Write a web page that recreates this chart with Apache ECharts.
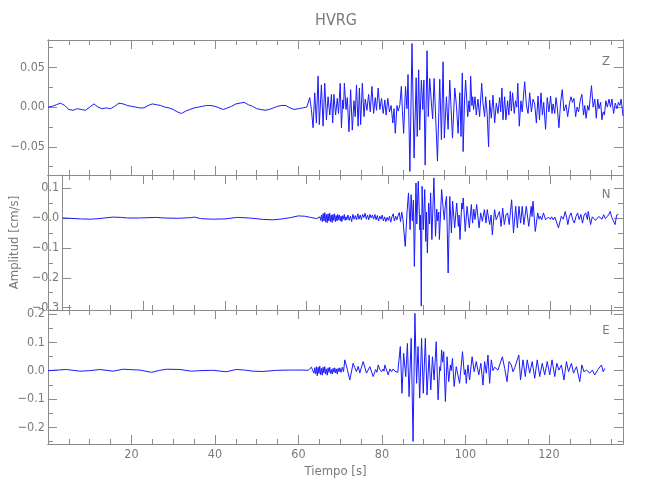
<!DOCTYPE html>
<html><head><meta charset="utf-8">
<script src="https://cdn.jsdelivr.net/npm/echarts@6/dist/echarts.min.js"></script>
<style>html,body{margin:0;padding:0;background:#fff}#c{width:650px;height:500px}</style>
</head><body><div id="c"></div>
<script>
// ---------- texts & ticks ----------
const chartTitle = 'HVRG';
const componentNames = ['Z', 'N', 'E'];
const xAxisName = 'Tiempo [s]';
const yAxisName = 'Amplitud [cm/s]';
const timeRange = [0, 137.75];
const xMajorTicks = [20, 40, 60, 80, 100, 120];
const xMinorTicks = [5, 10, 15, 25, 30, 35, 45, 50, 55, 65, 70, 75, 85, 90, 95, 105, 110, 115, 125, 130, 135];
const zRange = [-0.0855, 0.0845];
const nRange = [-0.3077, 0.1438];
const eRange = [-0.259, 0.214];
const zMajorTicks = [-0.05, 0, 0.05];
const zTickLabels = ['\u22120.05', '0.00', '0.05'];
const zMinorTicks = [-0.075, -0.025, 0.025, 0.075];
const nMajorTicks = [-0.3, -0.2, -0.1, 0, 0.1];
const nTickLabels = ['\u22120.3', '\u22120.2', '\u22120.1', '\u22120.0', '0.1'];
const nMinorTicks = [-0.25, -0.15, -0.05, 0.05];
const eMajorTicks = [-0.2, -0.1, 0, 0.1, 0.2];
const eTickLabels = ['\u22120.2', '\u22120.1', '0.0', '0.1', '0.2'];
const eMinorTicks = [-0.25, -0.15, -0.05, 0.05, 0.15];

// ---------- Z component ----------
const zQuietDt = 1; // quiet part sampled every 1 s from 0 s
const zQuiet = [
  0.000, 0.001, 0.003, 0.005, 0.002, -0.003, -0.004, -0.002, -0.003, -0.004,
  0.000, 0.004, 0.000, -0.002, -0.001, -0.002, 0.001, 0.005, 0.004, 0.002,
  0.001, 0.000, -0.001, -0.001, 0.002, 0.004, 0.003, 0.002, 0.000, -0.001,
  -0.003, -0.006, -0.008, -0.005, -0.003, -0.001, 0.000, 0.001, 0.002, 0.002,
  0.001, -0.001, -0.003, -0.001, 0.001, 0.004, 0.005, 0.006, 0.003, 0.001,
  -0.002, -0.003, -0.004, -0.003, -0.001, 0.001, 0.002, 0.002, -0.001, -0.003,
  -0.002, -0.001, 0.000
];
const zT = [
  62.3, 62.7, 63.1, 63.5, 63.9, 64.3, 64.7, 65.0, 65.5, 65.9,
  66.3, 66.7, 67.1, 67.5, 67.9, 68.2, 68.5, 68.9, 69.3, 69.6,
  70.0, 70.3, 70.6, 70.8, 71.0, 71.4, 71.7, 72.1, 72.5, 72.9,
  73.3, 73.6, 73.9, 74.3, 74.6, 74.9, 75.3, 75.7, 76.0, 76.4,
  76.8, 77.2, 77.6, 78.0, 78.4, 78.7, 79.1, 79.5, 79.9, 80.3,
  80.7, 81.0, 81.4, 81.8, 82.2, 82.6, 82.9, 83.2, 83.6, 83.9,
  84.3, 84.65, 84.9, 85.2, 85.65, 86.0, 86.25, 86.7, 87.2, 87.7,
  88.2, 88.45, 88.8, 89.05, 89.45, 89.8, 90.05, 90.35, 90.8, 91.1,
  91.45, 91.85, 92.15, 92.5, 93.3, 93.85, 94.25, 94.65, 94.95, 95.45,
  95.85, 96.25, 96.9, 97.45, 97.85, 98.25, 98.65, 98.95, 99.25, 99.45,
  99.8, 100.05, 100.55, 100.85, 101.05, 101.25, 101.55, 101.75, 101.95, 102.3,
  102.6, 103.0, 103.4, 103.9, 104.2, 104.6, 104.85, 105.2, 105.55, 105.8,
  106.2, 106.6, 107.0, 107.4, 107.8, 108.2, 108.45, 108.75, 109.0, 109.4,
  109.7, 110.1, 110.4, 110.75, 111.0, 111.3, 111.7, 112.0, 112.3, 112.55,
  112.9, 113.3, 113.6, 114.2, 114.6, 115.0, 115.4, 115.8, 116.2, 116.6,
  117.0, 117.4, 117.75, 118.1, 118.45, 118.75, 119.2, 119.6, 120.0, 120.4,
  120.75, 121.0, 121.4, 121.7, 122.0, 122.4, 122.8, 123.2, 123.6, 124.1,
  124.5, 124.9, 125.3, 125.65, 126.0, 126.4, 126.75, 127.1, 127.5, 127.9,
  128.3, 128.6, 128.9, 129.3, 129.6, 130.2, 130.6, 131.0, 131.35, 131.7,
  132.0, 132.4, 132.7, 133.0, 133.3, 133.65, 134.0, 134.4, 134.75, 135.1,
  135.5, 135.9, 136.3, 136.65, 137.0, 137.3, 137.75
];
const zV = [
  0.000, 0.012, -0.003, -0.026, 0.018, -0.020, 0.039, -0.022, 0.028, -0.024,
  0.030, -0.016, 0.013, -0.010, 0.016, -0.020, 0.016, -0.010, 0.011, -0.008,
  0.030, -0.026, 0.009, -0.002, 0.030, -0.003, 0.012, -0.031, 0.022, -0.029,
  0.008, -0.012, 0.028, -0.024, 0.024, -0.022, 0.030, -0.012, 0.010, -0.004,
  0.016, -0.006, 0.026, -0.008, 0.012, -0.004, 0.024, -0.003, 0.011, -0.008,
  0.009, -0.010, 0.011, -0.006, 0.002, -0.020, -0.002, -0.033, 0.002, -0.005,
  0.003, 0.026, -0.004, -0.033, 0.026, -0.002, 0.041, -0.081, 0.080, -0.064,
  0.037, -0.037, 0.047, -0.029, 0.034, -0.003, 0.034, -0.073, 0.071, -0.012,
  0.036, 0.005, -0.015, 0.036, -0.068, 0.035, -0.041, 0.057, -0.039, 0.013,
  -0.028, 0.034, -0.039, 0.024, 0.002, -0.033, 0.018, -0.037, 0.043, -0.056,
  0.010, 0.034, -0.012, 0.008, -0.006, 0.039, 0.002, 0.013, -0.003, 0.013,
  -0.010, 0.010, -0.012, 0.030, 0.005, -0.012, 0.013, -0.008, -0.050, 0.009,
  -0.014, 0.015, -0.020, 0.005, -0.008, 0.012, -0.006, 0.024, -0.016, 0.013,
  -0.016, 0.008, -0.010, 0.020, -0.005, 0.018, -0.008, 0.008, 0.000, 0.030,
  -0.024, 0.008, -0.006, 0.032, 0.003, -0.008, 0.018, -0.006, 0.010, 0.004,
  -0.020, 0.014, -0.016, 0.018, -0.010, 0.006, -0.028, 0.012, -0.006, 0.014,
  -0.008, 0.004, -0.008, 0.012, 0.000, -0.026, 0.006, 0.022, -0.005, 0.003,
  -0.012, 0.004, 0.013, 0.006, 0.011, -0.012, 0.000, -0.006, 0.008, 0.016,
  -0.010, 0.002, -0.014, 0.002, -0.004, 0.027, 0.000, 0.010, -0.014, 0.010,
  -0.002, 0.006, -0.016, -0.006, -0.010, 0.008, 0.000, 0.010, 0.000, 0.010,
  -0.008, 0.005, -0.002, 0.006, 0.002, 0.010, -0.011
];

// ---------- N component ----------
const nQuietT = [0, 2, 4.5, 7, 9, 12.5, 14.5, 16, 19, 23, 25, 28.5, 31.5, 32.5, 34, 37, 40, 43, 46, 49.5, 52, 54, 56, 58, 59.5, 61, 62.5, 63.3];
const nQuietV = [0, -0.001, -0.003, -0.004, -0.002, 0.003, 0.002, 0, 0, 0.002, 0, -0.001, 0.001, 0.003, -0.002, -0.004, -0.003, 0.002, 0, -0.005, -0.006, -0.003, 0.001, 0.007, 0.006, 0.002, -0.002, 0.004];
const nT = [
  63.5, 63.7, 63.9, 64.1, 64.3, 64.5, 64.7, 64.9, 65.1, 65.3,
  65.5, 65.7, 65.9, 66.1, 66.3, 66.5, 66.7, 66.9, 67.1, 67.3,
  67.5, 67.7, 67.9, 68.1, 68.3, 68.5, 68.7, 68.9, 69.1, 69.3,
  69.5, 69.7, 69.9, 70.2, 70.5, 70.8, 71.1, 71.4, 71.7, 72.0,
  72.3, 72.6, 72.9, 73.2, 73.5, 73.8, 74.1, 74.4, 74.7, 75.0,
  75.3, 75.6, 75.9, 76.2, 76.5, 76.8, 77.1, 77.4, 77.7, 78.0,
  78.3, 78.6, 78.9, 79.2, 79.5, 79.8, 80.1, 80.4, 80.7, 81.0,
  81.3, 81.6, 81.9, 82.2, 82.5, 82.8, 83.1, 83.4, 83.7,
  84.26, 84.7, 85.06, 85.46, 85.7, 86.0, 86.26, 86.5, 86.9, 87.1,
  87.46, 87.85, 88.0, 88.2, 88.4, 88.7, 89.05, 89.3, 89.45, 89.7,
  90.0, 90.25, 90.5, 90.8, 91.3, 91.7, 92.0, 92.25, 92.5, 92.65,
  93.2, 93.6, 93.85, 94.15, 94.4, 94.8, 95.2, 95.6, 95.9, 96.4,
  96.9, 97.3, 97.5, 97.7, 98.15, 98.3, 98.5, 99.0, 99.45, 100.0,
  100.5, 100.8, 101.1, 101.4, 101.8, 102.4, 102.8, 103.2, 103.7, 104.1,
  104.4, 105.0, 105.35, 105.65, 106.2, 106.6, 107.0, 107.4, 107.8, 108.2,
  108.6, 109.0, 109.4, 109.8, 110.4, 110.85, 111.4, 111.8, 112.2, 112.6,
  113.0, 113.4, 114.0, 114.6, 115.2, 115.4, 115.65, 116.2, 116.8, 117.15,
  117.4, 117.8, 118.2, 118.75, 119.4, 119.9, 120.2, 120.6, 121.0, 121.9,
  122.6, 123.1, 123.55, 123.9, 124.2, 124.6, 125.0, 125.4, 125.8, 126.2,
  126.6, 127.0, 127.4, 127.8, 128.2, 128.6, 129.0, 129.2, 129.8, 130.2,
  130.6, 131.0, 131.4, 131.8, 132.2, 132.6, 133.0, 133.4, 133.8, 134.2,
  134.6, 135.0, 135.4, 135.8, 136.2, 136.6
];
const nV = [
  -0.008, 0.010, -0.012, 0.015, -0.010, 0.018, -0.014, 0.012, -0.016, 0.014,
  -0.010, 0.016, -0.012, 0.010, -0.015, 0.012, -0.008, 0.014, -0.012, 0.008,
  -0.010, 0.012, -0.006, 0.010, -0.010, 0.006, -0.012, 0.008, -0.004, 0.012,
  -0.008, 0.004, -0.006, 0.010, -0.008, 0.006, -0.012, 0.012, -0.004, 0.008,
  -0.006, 0.014, -0.004, 0.010, -0.006, 0.012, 0.002, 0.016, -0.004, 0.010,
  -0.006, 0.012, 0.000, 0.010, -0.004, 0.012, -0.006, 0.008, -0.010, 0.006,
  -0.004, 0.010, -0.010, 0.004, -0.012, 0.002, -0.008, 0.006, -0.014, 0.004,
  0.014, -0.010, 0.006, -0.006, 0.008, 0.018, -0.012, 0.020, -0.005,
  -0.095, 0.020, 0.084, -0.039, 0.078, -0.010, 0.060, -0.162, 0.117, -0.020,
  0.123, -0.040, 0.010, -0.295, 0.106, -0.039, 0.095, -0.078, 0.020, -0.117,
  0.050, -0.020, 0.084, -0.072, 0.134, -0.061, 0.030, -0.010, 0.020, -0.072,
  0.095, 0.028, -0.006, 0.050, 0.072, -0.184, 0.072, -0.050, 0.056, -0.033,
  0.050, -0.028, 0.010, -0.072, 0.050, 0.030, 0.067, -0.045, 0.039, -0.033,
  0.045, -0.017, 0.030, -0.005, 0.045, -0.033, 0.017, -0.011, 0.028, -0.017,
  0.028, -0.022, 0.010, -0.056, 0.028, -0.006, -0.010, 0.022, -0.028, 0.033,
  -0.022, 0.010, 0.017, -0.022, 0.061, -0.050, 0.039, -0.033, 0.039, -0.017,
  0.039, -0.022, 0.039, -0.028, 0.039, 0.005, 0.056, -0.045, 0.017, -0.004,
  0.006, -0.006, 0.017, -0.006, 0.003, -0.004, 0.004, -0.006, 0.003, -0.033,
  0.006, -0.004, 0.022, 0.002, -0.022, 0.006, 0.017, -0.006, -0.017, 0.005,
  0.017, -0.005, 0.012, -0.017, 0.010, 0.017, -0.005, 0.022, -0.022, 0.004,
  0.000, -0.008, -0.006, 0.005, 0.006, -0.004, 0.011, -0.002, -0.006, 0.010,
  0.022, 0.002, 0.006, -0.022, 0.010, 0.012
];

// ---------- E component ----------
const eQuietT = [0, 4.4, 7.6, 10, 12.4, 15.6, 18, 20.4, 22, 24.8, 26.8, 28.4, 31.6, 34.4, 36.4, 39.5, 42.7, 45.1, 47.1, 49.1, 51.5, 54.7, 57.9, 61.1, 62.3, 63.1, 63.7];
const eQuietV = [0, 0.004, -0.002, 0, 0.004, -0.002, 0.005, 0.003, 0.002, -0.006, 0.001, 0.005, 0.004, -0.002, 0, 0.001, -0.004, 0.004, 0.002, -0.002, -0.003, 0.001, 0.002, 0.002, 0.001, 0.012, -0.009];
const eT = [
  63.9, 64.1, 64.3, 64.5, 64.7, 64.9, 65.1, 65.3, 65.5, 65.7,
  65.9, 66.1, 66.3, 66.5, 66.7, 66.9, 67.1, 67.3, 67.5, 67.7,
  67.9, 68.1, 68.3, 68.5, 68.7, 68.9, 69.1, 69.3, 69.5, 69.7,
  69.9, 70.2, 70.5, 70.8, 71.1, 71.7, 72.3, 73.1, 73.5, 73.9,
  74.3, 74.7, 75.5, 76.3, 77.1, 77.9, 78.5, 78.8, 79.1, 79.5,
  79.9, 80.3, 80.5, 80.7, 81.1, 81.5, 81.9, 82.3, 82.7, 83.1,
  83.5, 83.8, 84.4, 84.8, 85.2, 85.7, 86.1, 86.5, 87.0, 87.46,
  87.9, 88.3, 88.65, 89.05, 89.5, 89.9, 90.4, 90.8, 91.3, 91.7,
  92.1, 92.5, 93.0, 93.45, 93.85, 94.05, 94.3, 94.55, 94.8, 95.2,
  95.6, 96.0, 96.4, 96.6, 96.9, 97.3, 97.8, 98.6, 99.3, 99.75,
  100.0, 100.2, 100.6, 101.0, 101.6, 102.1, 102.6, 103.2, 103.7, 104.2,
  104.6, 105.0, 105.4, 105.8, 106.2, 106.6, 107.0, 107.4, 107.8, 108.2,
  108.85, 109.4, 109.97, 110.45, 111.0, 111.4, 111.8, 112.2, 112.8, 113.2,
  113.8, 114.35, 114.8, 115.4, 116.0, 116.6, 117.2, 117.8, 118.4, 119.0,
  119.6, 120.2, 120.75, 121.4, 121.9, 122.4, 123.0, 123.6, 124.2, 124.7,
  125.4, 125.9, 126.6, 127.4, 127.9, 128.4, 129.0, 129.8, 130.4, 131.0,
  131.8, 132.6, 133.0, 133.4
];
const eV = [
  0.010, -0.012, 0.014, -0.018, 0.012, -0.010, 0.016, -0.014, 0.008, -0.016,
  0.012, -0.008, 0.014, -0.012, 0.006, -0.016, 0.010, -0.006, 0.012, -0.010,
  0.004, -0.012, 0.008, -0.006, 0.010, -0.008, 0.006, -0.012, 0.008, -0.004,
  0.010, -0.006, 0.012, -0.004, 0.038, 0.005, -0.033, 0.026, 0.010, -0.004,
  0.015, -0.008, 0.032, -0.009, 0.014, -0.021, 0.004, -0.006, 0.020, 0.004,
  -0.004, 0.006, -0.002, 0.020, 0.002, -0.015, 0.006, -0.004, 0.006, -0.002,
  0.004, -0.006, 0.085, -0.080, 0.061, -0.021, 0.096, -0.092, 0.114, -0.250,
  0.202, -0.045, 0.085, -0.097, 0.114, -0.080, 0.114, -0.086, 0.055, -0.068,
  0.049, -0.033, 0.102, -0.103, 0.014, 0.000, 0.073, 0.030, 0.067, -0.109,
  0.049, -0.039, 0.020, 0.000, 0.043, -0.056, 0.014, -0.045, 0.067, -0.015,
  0.004, -0.045, 0.020, -0.033, 0.049, -0.004, 0.032, -0.015, 0.026, -0.051,
  0.032, -0.009, 0.055, -0.045, 0.038, 0.000, 0.012, 0.018, 0.002, -0.004,
  0.049, 0.008, -0.039, 0.032, 0.020, -0.004, 0.010, 0.006, 0.055, -0.033,
  0.038, -0.021, 0.038, -0.009, 0.032, -0.027, 0.038, -0.021, 0.026, -0.015,
  0.032, -0.015, 0.038, -0.021, 0.026, 0.002, 0.020, -0.033, 0.032, -0.004,
  0.026, -0.009, 0.014, -0.039, 0.020, -0.004, 0.002, -0.009, 0.002, -0.015,
  0.005, 0.020, -0.004, 0.008
];

// ---------- build ----------
function pairs(ts, vs) {
  const out = [];
  const n = Math.min(ts.length, vs.length);
  for (let i = 0; i < n; i++) out.push([ts[i], vs[i]]);
  return out;
}
const zData = zQuiet.map((v, i) => [i * zQuietDt, v]).concat(pairs(zT, zV));
const nData = pairs(nQuietT, nQuietV).concat(pairs(nT, nV));
const eData = pairs(eQuietT, eQuietV).concat(pairs(eT, eV));

const FONT = "'Liberation Sans Narrow','DejaVu Sans Condensed','Liberation Sans',sans-serif";
const AXIS_COLOR = '#8c8c8c';
const TEXT_COLOR = '#7a7a7a';
const LINE_COLOR = '#1a1aff';

const panels = [
  { top: 40, height: 135, range: zRange, major: zMajorTicks, labels: zTickLabels, minor: zMinorTicks, data: zData },
  { top: 175, height: 135, range: nRange, major: nMajorTicks, labels: nTickLabels, minor: nMinorTicks, data: nData },
  { top: 310, height: 134, range: eRange, major: eMajorTicks, labels: eTickLabels, minor: eMinorTicks, data: eData }
];

const grids = [], xAxes = [], yAxes = [], series = [];
const labelStyle = { color: TEXT_COLOR, fontFamily: FONT, fontSize: 12.5 };

panels.forEach((p, pi) => {
  [false, true].forEach(isMinor => {
    const g = grids.length;
    grids.push({ left: 48, right: 27, top: p.top, height: p.height, containLabel: false });
    const tickLenX = isMinor ? 5 : 9;
    const tickLenY = isMinor ? 5 : 9;
    ['bottom', 'top'].forEach(pos => {
      const showLabel = !isMinor && pos === 'bottom' && pi === 2;
      const ax = {
        gridIndex: g, type: 'value', position: pos,
        min: timeRange[0], max: timeRange[1],
        axisLine: { show: true, onZero: false, lineStyle: { color: AXIS_COLOR, width: 1 } },
        axisTick: { show: true, inside: true, length: tickLenX, customValues: isMinor ? xMinorTicks : xMajorTicks, lineStyle: { color: AXIS_COLOR } },
        axisLabel: { show: showLabel, customValues: xMajorTicks, margin: 4, ...labelStyle },
        splitLine: { show: false }
      };
      if (showLabel) {
        ax.name = xAxisName; ax.nameLocation = 'middle'; ax.nameGap = 21;
        ax.nameTextStyle = { color: TEXT_COLOR, fontFamily: FONT, fontSize: 13 };
      }
      xAxes.push(ax);
    });
    ['left', 'right'].forEach(pos => {
      const showLabel = !isMinor && pos === 'left';
      const ay = {
        gridIndex: g, type: 'value', position: pos,
        min: p.range[0], max: p.range[1],
        axisLine: { show: true, onZero: false, lineStyle: { color: AXIS_COLOR, width: 1 } },
        axisTick: { show: true, inside: true, length: tickLenY, customValues: isMinor ? p.minor : p.major, lineStyle: { color: AXIS_COLOR } },
        axisLabel: {
          show: showLabel, customValues: p.major, margin: 3, ...labelStyle,
          formatter: v => {
            for (let i = 0; i < p.major.length; i++) if (Math.abs(p.major[i] - v) < 1e-9) return p.labels[i];
            return '';
          }
        },
        splitLine: { show: false }
      };
      if (showLabel && pi === 1) {
        ay.name = yAxisName; ay.nameLocation = 'middle'; ay.nameGap = 27;
        ay.nameTextStyle = { color: TEXT_COLOR, fontFamily: FONT, fontSize: 13 };
      }
      yAxes.push(ay);
    });
    if (!isMinor) {
      series.push({
        type: 'line', name: componentNames[pi],
        xAxisIndex: 2 * g, yAxisIndex: 2 * g,
        data: p.data, showSymbol: false, symbol: 'none',
        lineStyle: { color: LINE_COLOR, width: 1 },
        clip: true, silent: true
      });
    }
  });
});

const letterY = [62, 195, 331];
const graphics = [
  { type: 'text', x: 336, y: 21, style: { text: chartTitle, align: 'center', verticalAlign: 'middle', fill: TEXT_COLOR, font: '16px ' + FONT } }
].concat(componentNames.map((c, i) => ({
  type: 'text', x: 606, y: letterY[i],
  style: { text: c, align: 'center', verticalAlign: 'middle', fill: TEXT_COLOR, font: '13px ' + FONT }
})));

const chart = echarts.init(document.getElementById('c'), null, { renderer: 'canvas' });
chart.setOption({
  animation: false,
  backgroundColor: '#ffffff',
  grid: grids,
  xAxis: xAxes,
  yAxis: yAxes,
  series: series,
  graphic: graphics
});
</script>
</body></html>
